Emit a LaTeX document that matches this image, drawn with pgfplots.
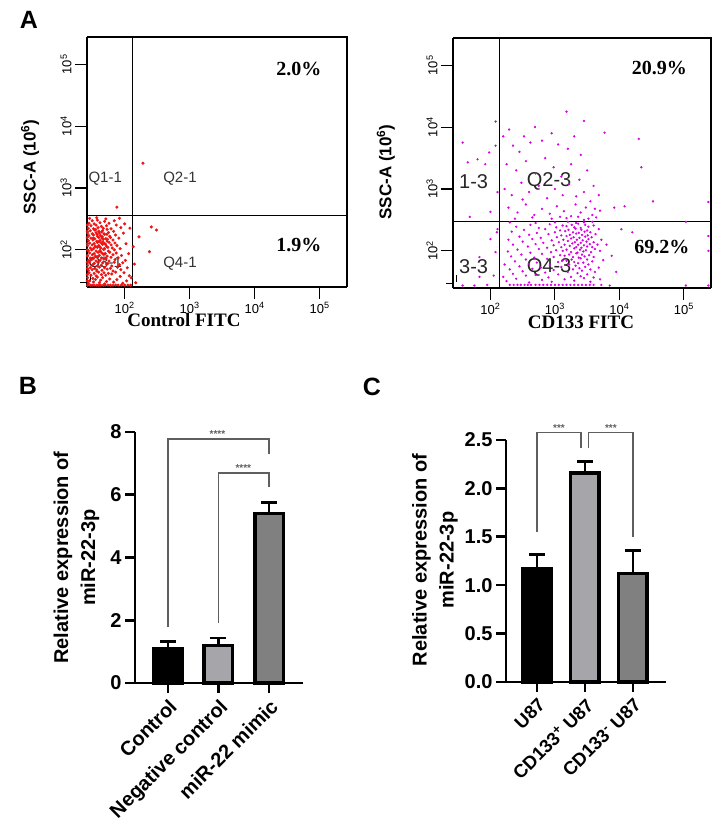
\documentclass[border=0pt]{standalone}
\usepackage{fontspec}
\setmainfont{Liberation Sans}
\newfontfamily\serifff{Liberation Serif}
\usepackage{pgfplots}
\pgfplotsset{compat=1.18}
\definecolor{flowred}{RGB}{238,20,20}
\definecolor{flowmag}{RGB}{218,0,228}
\definecolor{barlight}{RGB}{165,165,170}
\definecolor{bardark}{RGB}{128,128,128}
\definecolor{brk}{RGB}{95,95,95}
\pgfplotsset{
  flow/.style={
    scale only axis, height=250pt, clip=false,
    xmin=1.42, xmax=5.42, ymin=1.40, ymax=5.44,
    axis x line*=bottom, axis y line*=left,
    axis line style={line width=1.3pt, -},
    xtick={2,3,4,5}, ytick={2,3,4,5},
    xticklabels={10\textsuperscript{2},10\textsuperscript{3},10\textsuperscript{4},10\textsuperscript{5}},
    yticklabels={10\textsuperscript{2},10\textsuperscript{3},10\textsuperscript{4},10\textsuperscript{5}},
    tick align=outside,
    major tick length=12pt,
    every tick/.style={black, line width=1.1pt},
    tick label style={font=\fontsize{13}{13}\selectfont},
    yticklabel style={rotate=90, anchor=south},
    xlabel style={font=\serifff\bfseries\fontsize{19}{19}\selectfont, anchor=center},
    ylabel style={font=\bfseries\fontsize{17}{17}\selectfont, anchor=center},
  },
  bars/.style={
    scale only axis, height=#1,
    axis lines=left, axis line style={line width=2.6pt, -},
    ymin=0, xtick={1,2,3},
    tick align=outside, major tick length=10pt,
    every tick/.style={black, line width=2.6pt},
    tick label style={font=\bfseries\fontsize{20}{20}\selectfont},
    xticklabel style={rotate=45, anchor=north east},
    ylabel style={font=\bfseries\fontsize{20}{27}\selectfont, align=center, anchor=center},
    clip=false,
  },
  onebar/.style={ybar, bar shift=0pt, bar width=28.5pt, draw=black, line width=3.5pt, fill=#1,
    error bars/.cd, y dir=plus, y explicit,
    error bar style={line width=2.6pt, black},
    error mark options={rotate=90, line width=2.6pt, mark size=8pt, black}},
}
\newcommand{\logminors}{1.477,1.602,1.699,1.778,1.845,1.903,1.954,2.301,2.477,2.602,2.699,2.778,2.845,2.903,2.954,3.301,3.477,3.602,3.699,3.778,3.845,3.903,3.954,4.301,4.477,4.602,4.699,4.778,4.845,4.903,4.954,5.301}
\begin{document}
\begin{tikzpicture}
\path (0pt,0pt) rectangle (727pt,832pt);
\node[font=\bfseries\fontsize{25}{25}\selectfont] at (29pt,812pt) {A};
\node[font=\bfseries\fontsize{25}{25}\selectfont] at (28pt,446pt) {B};
\node[font=\bfseries\fontsize{25}{25}\selectfont] at (372pt,445pt) {C};

% ---------- A left ----------
\begin{axis}[flow, width=260pt, at={(87pt,545pt)}, anchor=south west,
  xlabel={Control FITC}, ylabel={SSC-A (10\textsuperscript{6})},
  xlabel style={at={(axis description cs:0.373,-0.132)}},
  ylabel style={at={(axis description cs:-0.219,0.48)}}]
\addplot[only marks, mark=*, mark size=1.35pt, color=flowred] coordinates {
(1.43,1.43)(1.47,1.43)(1.50,1.43)(1.53,1.43)(1.57,1.43)(1.60,1.43)(1.63,1.43)(1.67,1.43)(1.70,1.43)(1.74,1.43)(1.78,1.43)(1.82,1.43)(1.86,1.43)(1.90,1.43)(1.95,1.43)(2.00,1.43)(2.05,1.43)(2.09,1.43)
(1.44,1.46)(1.52,1.48)(1.61,1.47)(1.69,1.45)(1.83,1.48)(1.97,1.46)
(1.46,1.50)(1.55,1.52)(1.63,1.51)(1.72,1.49)(1.88,1.52)(2.03,1.50)
(1.43,1.55)(1.51,1.54)(1.58,1.56)(1.66,1.55)(1.77,1.53)(1.93,1.57)
(1.48,1.59)(1.56,1.58)(1.64,1.60)(1.71,1.59)(1.80,1.61)(2.07,1.58)
(1.45,1.63)(1.53,1.62)(1.60,1.64)(1.68,1.63)(1.75,1.62)(1.86,1.64)(1.99,1.63)
(1.44,1.67)(1.50,1.68)(1.57,1.66)(1.65,1.67)(1.73,1.69)(1.82,1.66)(1.94,1.68)
(1.47,1.71)(1.54,1.70)(1.61,1.72)(1.69,1.71)(1.78,1.70)(1.89,1.72)(2.04,1.71)
(1.43,1.75)(1.51,1.76)(1.58,1.74)(1.64,1.75)(1.72,1.77)(1.80,1.74)(1.92,1.76)
(1.46,1.79)(1.53,1.78)(1.59,1.80)(1.66,1.79)(1.74,1.78)(1.84,1.80)(1.97,1.79)
(1.44,1.83)(1.49,1.84)(1.56,1.82)(1.62,1.83)(1.68,1.85)(1.76,1.82)(1.85,1.84)(2.01,1.83)
(1.47,1.87)(1.52,1.86)(1.58,1.88)(1.64,1.87)(1.71,1.86)(1.79,1.88)(1.90,1.87)
(1.43,1.91)(1.50,1.92)(1.55,1.90)(1.61,1.91)(1.67,1.93)(1.73,1.90)(1.82,1.92)(1.95,1.91)
(1.46,1.95)(1.53,1.94)(1.59,1.96)(1.65,1.95)(1.70,1.94)(1.77,1.96)(1.87,1.95)(2.06,1.94)
(1.44,1.99)(1.49,2.00)(1.56,1.98)(1.62,1.99)(1.68,2.01)(1.75,1.98)(1.84,2.00)
(1.47,2.03)(1.52,2.02)(1.58,2.04)(1.63,2.03)(1.69,2.02)(1.74,2.04)(1.81,2.03)(1.93,2.02)
(1.43,2.07)(1.50,2.08)(1.55,2.06)(1.60,2.07)(1.66,2.09)(1.72,2.06)(1.79,2.08)(1.88,2.07)
(1.46,2.11)(1.53,2.10)(1.58,2.12)(1.64,2.11)(1.69,2.10)(1.76,2.12)(1.85,2.11)(2.02,2.10)
(1.44,2.15)(1.51,2.16)(1.57,2.14)(1.62,2.15)(1.67,2.17)(1.73,2.14)(1.82,2.16)
(1.48,2.19)(1.54,2.18)(1.60,2.20)(1.65,2.19)(1.71,2.18)(1.78,2.20)(1.91,2.19)
(1.45,2.23)(1.52,2.24)(1.58,2.22)(1.63,2.23)(1.69,2.25)(1.77,2.22)(1.86,2.24)
(1.43,2.27)(1.50,2.26)(1.56,2.28)(1.61,2.27)(1.68,2.26)(1.75,2.28)(1.98,2.27)
(1.47,2.31)(1.54,2.32)(1.60,2.30)(1.66,2.31)(1.73,2.33)(1.83,2.30)
(1.44,2.35)(1.52,2.34)(1.59,2.36)(1.67,2.35)(1.79,2.34)(1.94,2.36)
(1.48,2.39)(1.56,2.40)(1.64,2.38)(1.72,2.39)(1.87,2.40)
(1.45,2.43)(1.53,2.42)(1.62,2.44)(1.76,2.43)(2.00,2.42)
(1.50,2.47)(1.58,2.48)(1.69,2.46)(1.84,2.47)
(1.46,2.51)(1.57,2.52)(1.71,2.50)(1.92,2.51)
(1.545,2.05)(1.605,2.13)(1.655,2.21)(1.705,2.09)(1.575,2.25)(1.625,1.97)(1.675,2.01)(1.735,2.17)
(1.515,2.19)(1.585,1.89)(1.645,2.29)(1.695,1.93)(1.555,2.33)(1.615,2.05)(1.665,2.13)(1.725,2.25)
(1.425,1.50)(1.425,1.60)(1.425,1.70)(1.425,1.80)(1.425,1.90)(1.425,2.00)(1.425,2.10)(1.425,2.20)(1.425,2.30)(1.425,2.40)
(2.28,3.40)(2.41,2.37)(2.49,2.32)(2.22,2.21)(2.38,1.97)(2.15,1.77)(2.17,1.47)(1.88,2.69)(2.10,1.55)(2.08,2.35)(2.13,2.05)
};
\addplot[black, line width=1.2pt] coordinates {(2.12,1.40)(2.12,5.44)};
\addplot[black, line width=1.2pt] coordinates {(1.42,2.55)(5.42,2.55)};
\draw[black, line width=1.3pt] (rel axis cs:0,1) -- (rel axis cs:1,1) -- (rel axis cs:1,0);
\pgfplotsinvokeforeach{\logminors}{\draw[black, line width=1.0pt] (axis cs:#1,1.40) -- ++(0pt,-7pt);}
\pgfplotsinvokeforeach{\logminors}{\draw[black, line width=1.0pt] (axis cs:1.42,#1) -- ++(-7pt,0pt);}
\node[font=\serifff\bfseries\fontsize{20}{20}\selectfont] at (axis cs:4.68,4.92) {2.0\%};
\node[font=\serifff\bfseries\fontsize{20}{20}\selectfont] at (axis cs:4.68,2.08) {1.9\%};
\node[black!80, font=\fontsize{15}{15}\selectfont] at (axis cs:1.70,3.15) {Q1-1};
\node[black!80, font=\fontsize{15}{15}\selectfont] at (axis cs:2.85,3.15) {Q2-1};
\node[black!80, font=\fontsize{15}{15}\selectfont] at (axis cs:1.70,1.77) {Q3-1};
\node[black!80, font=\fontsize{15}{15}\selectfont] at (axis cs:2.85,1.77) {Q4-1};
\end{axis}

% ---------- A right ----------
\begin{axis}[flow, width=258pt, at={(453pt,544pt)}, anchor=south west,
  xlabel={CD133 FITC}, ylabel={SSC-A (10\textsuperscript{6})},
  xlabel style={at={(axis description cs:0.496,-0.136)}},
  ylabel style={at={(axis description cs:-0.26,0.464)}}]
\addplot[only marks, mark=*, mark size=0.95pt, color=flowmag] coordinates {
(2.30,1.45)(2.36,1.45)(2.42,1.45)(2.47,1.45)(2.53,1.45)(2.58,1.45)(2.63,1.45)(2.70,1.45)(2.76,1.45)(2.82,1.45)(2.88,1.45)(2.94,1.45)(3.00,1.45)(3.06,1.45)(3.12,1.45)(3.18,1.45)(3.24,1.45)(3.30,1.45)(3.36,1.45)(3.42,1.45)(3.48,1.45)(3.54,1.45)(3.60,1.45)(3.72,1.45)(3.85,1.44)
(2.25,1.51)(2.60,1.49)(2.95,1.50)(3.30,1.52)(3.55,1.50)
(2.40,1.55)(2.80,1.53)(3.15,1.54)(3.45,1.56)(3.70,1.54)
(2.20,1.58)(2.55,1.60)(2.90,1.57)(3.25,1.58)(3.40,1.59)(3.60,1.57)
(2.35,1.63)(2.70,1.61)(3.05,1.62)(3.35,1.64)(3.50,1.62)(3.95,1.66)
(2.50,1.67)(2.85,1.65)(3.20,1.66)(3.42,1.68)(3.62,1.66)
(2.30,1.70)(2.65,1.71)(2.98,1.69)(3.28,1.70)(3.38,1.72)(3.55,1.70)
(2.45,1.75)(2.78,1.73)(3.10,1.74)(3.32,1.76)(3.47,1.74)(3.68,1.73)
(2.22,1.78)(2.60,1.79)(2.92,1.77)(3.22,1.78)(3.36,1.80)(3.52,1.78)
(2.38,1.83)(2.72,1.81)(3.05,1.82)(3.18,1.84)(3.30,1.82)(3.44,1.81)(3.58,1.83)
(2.55,1.86)(2.88,1.87)(3.12,1.85)(3.26,1.86)(3.40,1.88)(3.50,1.86)(3.75,1.85)
(2.32,1.91)(2.68,1.89)(2.98,1.90)(3.15,1.92)(3.28,1.90)(3.37,1.89)(3.46,1.91)(3.60,1.90)
(2.48,1.94)(2.80,1.95)(3.08,1.93)(3.22,1.94)(3.33,1.96)(3.42,1.94)(3.53,1.93)
(2.27,1.99)(2.62,1.97)(2.94,1.98)(3.12,2.00)(3.25,1.98)(3.35,1.97)(3.44,1.99)(3.56,1.98)(3.70,2.00)
(2.42,2.02)(2.75,2.03)(3.02,2.01)(3.18,2.02)(3.30,2.04)(3.39,2.02)(3.48,2.01)(3.62,2.03)
(2.58,2.07)(2.88,2.05)(3.10,2.06)(3.23,2.08)(3.33,2.06)(3.41,2.05)(3.50,2.07)(3.58,2.06)
(2.35,2.10)(2.70,2.11)(2.98,2.09)(3.15,2.10)(3.27,2.12)(3.36,2.10)(3.45,2.09)(3.54,2.11)(3.66,2.10)
(2.50,2.15)(2.82,2.13)(3.06,2.14)(3.20,2.16)(3.31,2.14)(3.40,2.13)(3.49,2.15)(3.60,2.14)
(2.28,2.18)(2.65,2.19)(2.95,2.17)(3.13,2.18)(3.25,2.20)(3.34,2.18)(3.43,2.17)(3.52,2.19)(3.72,2.18)
(2.45,2.23)(2.78,2.21)(3.03,2.22)(3.18,2.24)(3.29,2.22)(3.38,2.21)(3.47,2.23)(3.57,2.22)
(2.60,2.26)(2.90,2.27)(3.10,2.25)(3.23,2.26)(3.33,2.28)(3.42,2.26)(3.51,2.25)(3.63,2.27)
(2.33,2.31)(2.72,2.29)(3.00,2.30)(3.16,2.32)(3.28,2.30)(3.37,2.29)(3.46,2.31)(3.55,2.30)
(2.52,2.34)(2.85,2.35)(3.08,2.33)(3.21,2.34)(3.32,2.36)(3.41,2.34)(3.50,2.33)(3.68,2.35)
(2.40,2.39)(2.75,2.37)(3.02,2.38)(3.18,2.40)(3.30,2.38)(3.40,2.37)(3.52,2.39)
(2.62,2.42)(2.92,2.43)(3.12,2.41)(3.26,2.42)(3.36,2.44)(3.47,2.42)(3.60,2.41)
(2.30,2.46)(2.70,2.45)(3.00,2.46)(3.20,2.47)(3.33,2.45)(3.45,2.46)(3.58,2.47)
(4.03,2.35)(3.80,2.10)(3.88,1.92)(4.20,2.30)(5.38,2.24)(5.38,2.00)(5.38,1.44)(5.03,1.44)(5.03,2.47)
(2.20,3.85)(2.29,3.96)(2.35,3.70)(2.45,3.60)(2.52,3.85)(2.69,4.00)(2.62,3.75)(2.80,3.78)(2.95,3.90)(3.05,3.72)(3.18,4.25)(3.45,4.10)(3.30,3.85)(3.20,3.65)(3.40,3.55)(3.77,3.91)(4.30,3.81)(4.34,3.35)
(2.25,3.40)(2.40,3.30)(2.55,3.45)(2.70,3.25)(2.85,3.50)(2.98,3.35)(3.10,3.20)(3.25,3.40)(3.38,3.15)(3.50,3.30)(3.60,3.05)
(2.22,3.00)(2.33,2.90)(2.48,3.10)(2.60,2.95)(2.75,3.05)(2.88,2.85)(3.00,3.00)(3.12,2.90)(3.22,3.08)(3.33,2.88)(3.45,2.95)(3.55,2.80)(3.68,2.90)
(2.28,2.70)(2.42,2.62)(2.55,2.75)(2.68,2.58)(2.80,2.68)(2.92,2.60)(3.03,2.72)(3.14,2.64)(3.25,2.56)(3.32,2.75)(3.40,2.62)(3.48,2.70)(3.58,2.58)(3.70,2.65)(3.92,2.70)(4.08,2.72)(4.52,2.80)(5.38,2.79)
(2.38,2.52)(2.65,2.54)(2.95,2.52)(3.18,2.53)(3.36,2.55)(3.52,2.52)(3.64,2.54)(2.50,2.83)(3.08,2.55)(3.45,2.50)(3.62,2.68)
(1.57,3.75)(2.08,4.09)(1.98,3.59)(2.08,3.70)(1.65,3.43)(1.80,3.48)(1.92,3.40)(2.11,2.95)(2.00,2.63)(1.68,2.55)
(2.11,2.35)(2.00,2.19)(2.08,1.98)(1.83,1.90)(1.83,1.58)(2.05,1.60)(1.75,1.44)(1.57,1.44)(1.95,1.45)(2.10,2.30)
};
\addplot[black, line width=1.2pt] coordinates {(2.14,1.40)(2.14,5.44)};
\addplot[black, line width=1.2pt] coordinates {(1.42,2.48)(5.42,2.48)};
\draw[black, line width=1.3pt] (rel axis cs:0,1) -- (rel axis cs:1,1) -- (rel axis cs:1,0);
\pgfplotsinvokeforeach{\logminors}{\draw[black, line width=1.0pt] (axis cs:#1,1.40) -- ++(0pt,-7pt);}
\pgfplotsinvokeforeach{\logminors}{\draw[black, line width=1.0pt] (axis cs:1.42,#1) -- ++(-7pt,0pt);}
\node[font=\serifff\bfseries\fontsize{20}{20}\selectfont] at (axis cs:4.62,4.95) {20.9\%};
\node[font=\serifff\bfseries\fontsize{20}{20}\selectfont] at (axis cs:4.66,2.06) {69.2\%};
\node[black!85, font=\fontsize{20}{20}\selectfont] at (axis cs:1.74,3.12) {1-3};
\node[black!85, font=\fontsize{20}{20}\selectfont] at (axis cs:2.91,3.12) {Q2-3};
\node[black!85, font=\fontsize{20}{20}\selectfont] at (axis cs:1.74,1.74) {3-3};
\node[black!85, font=\fontsize{20}{20}\selectfont] at (axis cs:2.91,1.74) {Q4-3};
\end{axis}

% ---------- B ----------
\begin{axis}[bars=251pt, width=168pt, at={(135pt,149pt)}, anchor=south west,
  xmin=0.35, xmax=3.67, ymax=8, ytick={0,2,4,6,8}, yticklabels={0,2,4,6,8},
  xticklabels={Control,Negative control,miR-22 mimic},
  ylabel={Relative expression of\\miR-22-3p},
  ylabel style={at={(axis description cs:-0.348,0.5)}}]
\addplot[onebar=black] coordinates {(1,1.10) +- (0,0.22)};
\addplot[onebar=barlight] coordinates {(2,1.19) +- (0,0.25)};
\addplot[onebar=bardark] coordinates {(3,5.40) +- (0,0.35)};
\draw[brk, line width=1.3pt] (axis cs:1,1.78) |- (axis cs:3,7.78) -- (axis cs:3,7.30);
\draw[brk, line width=1.3pt] (axis cs:2,1.91) |- (axis cs:3,6.69) -- (axis cs:3,6.25);
\node[brk, font=\bfseries\fontsize{10}{10}\selectfont, anchor=south, inner sep=1pt] at (axis cs:1.98,7.78) {****};
\node[brk, font=\bfseries\fontsize{10}{10}\selectfont, anchor=south, inner sep=1pt] at (axis cs:2.49,6.69) {****};
\end{axis}

% ---------- C ----------
\begin{axis}[bars=242pt, width=160pt, at={(506pt,150pt)}, anchor=south west,
  xmin=0.354, xmax=3.69, ymax=2.5, ytick={0,0.5,1,1.5,2,2.5},
  yticklabels={0.0,0.5,1.0,1.5,2.0,2.5},
  xticklabels={U87,CD133\textsuperscript{+} U87,CD133\textsuperscript{-} U87},
  xticklabel style={font=\bfseries\fontsize{18.5}{18.5}\selectfont},
  ylabel={Relative expression of\\miR-22-3p},
  ylabel style={at={(axis description cs:-0.444,0.504)}}]
\addplot[onebar=black] coordinates {(1,1.17) +- (0,0.15)};
\addplot[onebar=barlight] coordinates {(2,2.16) +- (0,0.12)};
\addplot[onebar=bardark] coordinates {(3,1.12) +- (0,0.24)};
\draw[brk, line width=1.3pt] (axis cs:1,1.55) |- (axis cs:1.92,2.58) -- (axis cs:1.92,2.42);
\draw[brk, line width=1.3pt] (axis cs:2.08,2.42) |- (axis cs:3,2.58) -- (axis cs:3,1.50);
\node[brk, font=\bfseries\fontsize{10}{10}\selectfont, anchor=south, inner sep=1pt] at (axis cs:1.46,2.58) {***};
\node[brk, font=\bfseries\fontsize{10}{10}\selectfont, anchor=south, inner sep=1pt] at (axis cs:2.54,2.58) {***};
\end{axis}
\end{tikzpicture}
\end{document}
